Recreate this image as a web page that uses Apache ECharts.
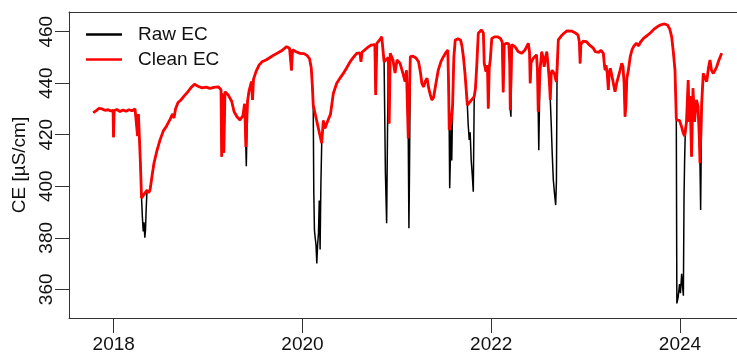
<!DOCTYPE html>
<html>
<head>
<meta charset="utf-8">
<title>EC</title>
<script src="https://cdn.jsdelivr.net/npm/echarts@6/dist/echarts.min.js"></script>
<style>
html,body{margin:0;padding:0;background:#fff;}
#main{width:737px;height:356px;}
</style>
</head>
<body>
<div id="main"></div>
<script>
// Decimal years of each sample
const years = [
2017.784,2017.812,2017.844,2017.876,2017.908,2017.940,2017.971,2017.993,2017.998,2018.005,
2018.035,2018.067,2018.099,2018.130,2018.162,2018.194,2018.226,2018.244,2018.253,2018.262,
2018.271,2018.282,2018.295,2018.304,2018.313,2018.321,2018.330,2018.337,2018.344,2018.353,
2018.369,2018.385,2018.406,2018.427,2018.456,2018.491,2018.526,2018.562,2018.597,2018.623,
2018.639,2018.655,2018.681,2018.713,2018.745,2018.782,2018.819,2018.856,2018.893,2018.936,
2018.978,2019.020,2019.063,2019.108,2019.137,2019.144,2019.154,2019.167,2019.179,2019.214,
2019.250,2019.275,2019.306,2019.338,2019.370,2019.386,2019.394,2019.400,2019.405,2019.418,
2019.434,2019.460,2019.471,2019.481,2019.508,2019.540,2019.571,2019.614,2019.656,2019.699,
2019.741,2019.783,2019.831,2019.863,2019.884,2019.895,2019.932,2019.974,2020.016,2020.048,
2020.075,2020.093,2020.105,2020.114,2020.120,2020.127,2020.135,2020.144,2020.152,2020.160,
2020.170,2020.178,2020.187,2020.195,2020.204,2020.221,2020.239,2020.257,2020.276,2020.297,
2020.327,2020.363,2020.398,2020.433,2020.469,2020.504,2020.539,2020.575,2020.610,2020.620,
2020.631,2020.681,2020.726,2020.767,2020.776,2020.788,2020.811,2020.840,2020.857,2020.865,
2020.879,2020.892,2020.901,2020.910,2020.919,2020.930,2020.959,2020.981,2021.002,2021.034,
2021.069,2021.087,2021.102,2021.113,2021.121,2021.128,2021.134,2021.143,2021.171,2021.203,
2021.230,2021.249,2021.265,2021.283,2021.302,2021.320,2021.338,2021.355,2021.371,2021.389,
2021.410,2021.439,2021.468,2021.494,2021.521,2021.540,2021.548,2021.555,2021.560,2021.568,
2021.574,2021.582,2021.591,2021.604,2021.619,2021.648,2021.675,2021.690,2021.706,2021.722,
2021.736,2021.747,2021.756,2021.767,2021.777,2021.788,2021.800,2021.810,2021.820,2021.833,
2021.847,2021.863,2021.897,2021.917,2021.926,2021.945,2021.960,2021.969,2021.979,2021.990,
2022.006,2022.035,2022.067,2022.098,2022.117,2022.127,2022.138,2022.162,2022.186,2022.196,
2022.202,2022.209,2022.218,2022.252,2022.287,2022.323,2022.358,2022.393,2022.406,2022.413,
2022.422,2022.446,2022.480,2022.490,2022.498,2022.504,2022.517,2022.535,2022.549,2022.561,
2022.575,2022.589,2022.605,2022.617,2022.626,2022.636,2022.646,2022.658,2022.671,2022.683,
2022.691,2022.697,2022.711,2022.739,2022.771,2022.803,2022.824,2022.856,2022.888,2022.920,
2022.934,2022.942,2022.950,2022.973,2023.010,2023.036,2023.057,2023.082,2023.102,2023.121,
2023.142,2023.163,2023.188,2023.197,2023.206,2023.216,2023.229,2023.241,2023.250,2023.262,
2023.278,2023.294,2023.312,2023.329,2023.347,2023.365,2023.383,2023.396,2023.408,2023.418,
2023.428,2023.437,2023.453,2023.473,2023.492,2023.513,2023.539,2023.561,2023.582,2023.614,
2023.651,2023.688,2023.725,2023.762,2023.799,2023.836,2023.868,2023.892,2023.912,2023.930,
2023.947,2023.961,2023.967,2023.981,2023.995,2024.005,2024.018,2024.028,2024.036,2024.043,
2024.049,2024.055,2024.069,2024.087,2024.097,2024.107,2024.123,2024.138,2024.154,2024.175,
2024.191,2024.205,2024.212,2024.219,2024.230,2024.247,2024.265,2024.283,2024.302,2024.318,
2024.334,2024.353,2024.371,2024.389,2024.413,2024.442
];

// Raw EC (µS/cm)
const rawEC = [
428.6,429.3,430.2,430.0,429.5,429.7,429.2,429.5,419.0,429.4,
429.8,429.0,429.6,429.1,429.7,429.3,430.0,429.6,419.5,428.0,
420.0,410.0,395.5,388.0,382.5,386.0,380.0,383.0,391.0,398.5,
397.5,398.5,404.0,409.0,413.5,418.0,421.5,423.5,426.0,428.0,
426.5,430.0,432.5,433.5,435.0,436.5,438.3,439.6,438.8,438.2,
438.5,438.0,438.4,438.6,437.5,411.5,436.0,413.0,436.7,435.4,
433.0,429.0,427.0,425.7,427.5,432.0,424.0,415.3,407.8,433.0,
437.0,440.6,433.5,441.5,444.5,447.0,448.3,449.0,450.0,451.0,
451.8,452.7,454.2,453.6,445.0,453.0,452.2,451.6,451.5,450.8,
449.5,446.0,439.0,431.5,398.0,383.0,380.0,377.0,370.0,377.0,
382.0,394.5,375.5,400.0,416.7,425.5,422.5,424.4,425.0,428.0,
436.0,440.0,442.0,443.8,446.0,448.3,450.0,451.6,451.8,448.3,
452.0,453.6,454.8,455.0,435.4,455.5,456.5,458.0,457.5,448.3,
405.0,385.6,420.0,450.0,424.4,451.6,449.0,444.0,449.0,447.7,
443.2,440.6,445.0,430.0,418.6,383.7,405.0,450.3,450.5,449.8,
448.3,444.5,440.0,438.6,440.8,441.9,438.0,435.5,433.5,434.5,
439.0,445.1,448.5,450.3,452.0,452.9,440.0,421.8,399.2,412.0,
424.6,410.0,431.5,450.0,456.8,457.2,456.8,454.5,450.0,443.8,
437.0,431.5,424.0,418.0,421.0,410.0,404.0,397.9,434.8,438.0,
447.0,459.4,460.7,459.5,447.7,444.5,447.0,430.2,446.0,449.0,
457.4,458.0,458.0,457.4,456.0,436.5,455.0,455.5,455.3,448.0,
429.6,427.0,455.0,454.2,452.2,451.6,452.9,455.5,452.0,440.0,
448.0,449.7,451.0,445.0,428.9,414.0,445.0,452.2,450.0,446.4,
450.0,452.2,446.0,440.0,433.5,424.0,413.0,402.5,397.0,392.7,
402.0,440.0,456.8,458.2,459.4,460.3,460.7,460.2,459.6,458.7,
456.0,447.7,455.0,456.3,456.1,455.0,454.5,453.6,452.3,452.9,
452.0,452.8,451.6,448.0,445.1,447.0,444.0,437.4,444.0,445.8,
443.0,442.5,436.7,440.0,442.5,445.0,447.7,446.5,440.0,427.0,
432.0,441.9,445.0,450.3,453.0,454.5,455.5,454.5,456.0,457.4,
458.5,459.6,461.0,462.0,462.7,463.0,462.6,461.0,458.0,452.0,
445.1,426.5,354.5,357.0,362.0,358.5,366.0,361.0,357.5,396.0,
409.5,419.2,425.0,441.2,425.0,435.0,411.5,438.0,425.0,433.5,
431.0,419.0,408.9,390.8,432.2,443.8,444.5,440.6,446.0,449.0,
445.0,443.8,445.0,446.4,449.0,451.6
];

// Clean EC (µS/cm); null where the raw value was removed
const cleanEC = [
428.6,429.3,430.2,430.0,429.5,429.7,429.2,429.5,419.0,429.4,
429.8,429.0,429.6,429.1,429.7,429.3,430.0,429.6,419.5,428.0,
420.0,410.0,395.5,null,null,null,null,null,null,398.5,
397.5,398.5,404.0,409.0,413.5,418.0,421.5,423.5,426.0,428.0,
426.5,430.0,432.5,433.5,435.0,436.5,438.3,439.6,438.8,438.2,
438.5,438.0,438.4,438.6,437.5,411.5,436.0,413.0,436.7,435.4,
433.0,429.0,427.0,425.7,427.5,432.0,424.0,415.3,null,433.0,
437.0,440.6,433.5,441.5,444.5,447.0,448.3,449.0,450.0,451.0,
451.8,452.7,454.2,453.6,445.0,453.0,452.2,451.6,451.5,450.8,
449.5,446.0,439.0,431.5,null,null,null,null,null,null,
null,null,null,null,416.7,425.5,422.5,424.4,425.0,428.0,
436.0,440.0,442.0,443.8,446.0,448.3,450.0,451.6,451.8,448.3,
452.0,453.6,454.8,455.0,435.4,455.5,456.5,458.0,457.5,448.3,
null,null,null,450.0,424.4,451.6,449.0,444.0,449.0,447.7,
443.2,440.6,445.0,430.0,418.6,null,null,450.3,450.5,449.8,
448.3,444.5,440.0,438.6,440.8,441.9,438.0,435.5,433.5,434.5,
439.0,445.1,448.5,450.3,452.0,452.9,440.0,421.8,null,null,
424.6,null,431.5,450.0,456.8,457.2,456.8,454.5,450.0,443.8,
437.0,431.5,null,null,null,null,null,null,434.8,438.0,
447.0,459.4,460.7,459.5,447.7,444.5,447.0,430.2,446.0,449.0,
457.4,458.0,458.0,457.4,456.0,436.5,455.0,455.5,455.3,448.0,
429.6,null,455.0,454.2,452.2,451.6,452.9,455.5,452.0,440.0,
448.0,449.7,451.0,445.0,428.9,null,445.0,452.2,450.0,446.4,
450.0,452.2,446.0,440.0,433.5,444.0,445.0,444.5,443.5,441.5,
440.5,440.0,456.8,458.2,459.4,460.3,460.7,460.2,459.6,458.7,
456.0,447.7,455.0,456.3,456.1,455.0,454.5,453.6,452.3,452.9,
452.0,452.8,451.6,448.0,445.1,447.0,444.0,437.4,444.0,445.8,
443.0,442.5,436.7,440.0,442.5,445.0,447.7,446.5,440.0,427.0,
432.0,441.9,445.0,450.3,453.0,454.5,455.5,454.5,456.0,457.4,
458.5,459.6,461.0,462.0,462.7,463.0,462.6,461.0,458.0,452.0,
445.1,426.5,425.7,425.8,425.6,425.0,423.0,421.5,420.5,420.0,
419.5,419.2,425.0,441.2,425.0,435.0,411.5,438.0,425.0,433.5,
431.0,419.0,408.9,null,432.2,443.8,444.5,440.6,446.0,449.0,
445.0,443.8,445.0,446.4,449.0,451.6
];

const xTickValues = [2018, 2020, 2022, 2024];
const yTickValues = [360, 380, 400, 420, 440, 460];
const seriesNames = ['Raw EC', 'Clean EC'];
const yTitle = 'CE [µS/cm]';

const FONT = "'Liberation Sans', Arial, Helvetica, sans-serif";
const TXT = '#111';
const AX = '#333';
const X_MIN = 2017.5264, X_MAX = 2024.6042;

const chart = echarts.init(document.getElementById('main'), null, {renderer: 'canvas'});
chart.setOption({
  animation: false,
  backgroundColor: '#fff',
  grid: {left: 69, right: 0, top: 12, bottom: 38, show: false, containLabel: false},
  legend: {
    data: [
      {name: seriesNames[0], icon: 'rect', itemStyle: {color: '#000'}},
      {name: seriesNames[1], icon: 'rect', itemStyle: {color: '#ff0000'}}
    ],
    orient: 'vertical', left: 86, top: 25, padding: 0,
    itemWidth: 36, itemHeight: 2.5, itemGap: 6,
    textStyle: {fontSize: 19, color: TXT, fontFamily: FONT, padding: [0, 0, 0, 11]}
  },
  xAxis: [{
    type: 'value', min: X_MIN, max: X_MAX, position: 'bottom',
    axisLine: {show: true, onZero: false, lineStyle: {color: AX, width: 1}}, splitLine: {show: false},
    axisTick: {show: true, length: 15, customValues: xTickValues, lineStyle: {color: AX, width: 1}},
    axisLabel: {customValues: xTickValues, margin: 17, fontSize: 19, color: TXT, fontFamily: FONT,
      formatter: v => String(Math.round(v))}
  }, {
    type: 'value', min: X_MIN, max: X_MAX, position: 'top',
    axisLine: {show: true, onZero: false, lineStyle: {color: AX, width: 1}},
    axisTick: {show: false}, axisLabel: {show: false}, splitLine: {show: false}
  }],
  yAxis: {
    type: 'value', min: 348.859, max: 467.648,
    name: yTitle, nameLocation: 'middle', nameGap: 34,
    nameTextStyle: {fontSize: 19, color: TXT, fontFamily: FONT},
    axisLine: {show: true, onZero: false, lineStyle: {color: AX, width: 1}}, splitLine: {show: false},
    axisTick: {show: true, length: 14, customValues: yTickValues, lineStyle: {color: AX, width: 1}},
    axisLabel: {customValues: yTickValues, rotate: 90, margin: 13, fontSize: 19, color: TXT, fontFamily: FONT}
  },
  series: [
    {name: seriesNames[0], type: 'line', symbol: 'none', z: 2, xAxisIndex: 0,
      data: years.map((t, i) => [t, rawEC[i]]),
      lineStyle: {color: '#000', width: 1.5}, itemStyle: {color: '#000'}},
    {name: seriesNames[1], type: 'line', symbol: 'none', z: 3, connectNulls: true, xAxisIndex: 0,
      data: years.map((t, i) => [t, cleanEC[i]]),
      lineStyle: {color: '#ff0000', width: 2.8}, itemStyle: {color: '#ff0000'}}
  ]
});
</script>
</body>
</html>
